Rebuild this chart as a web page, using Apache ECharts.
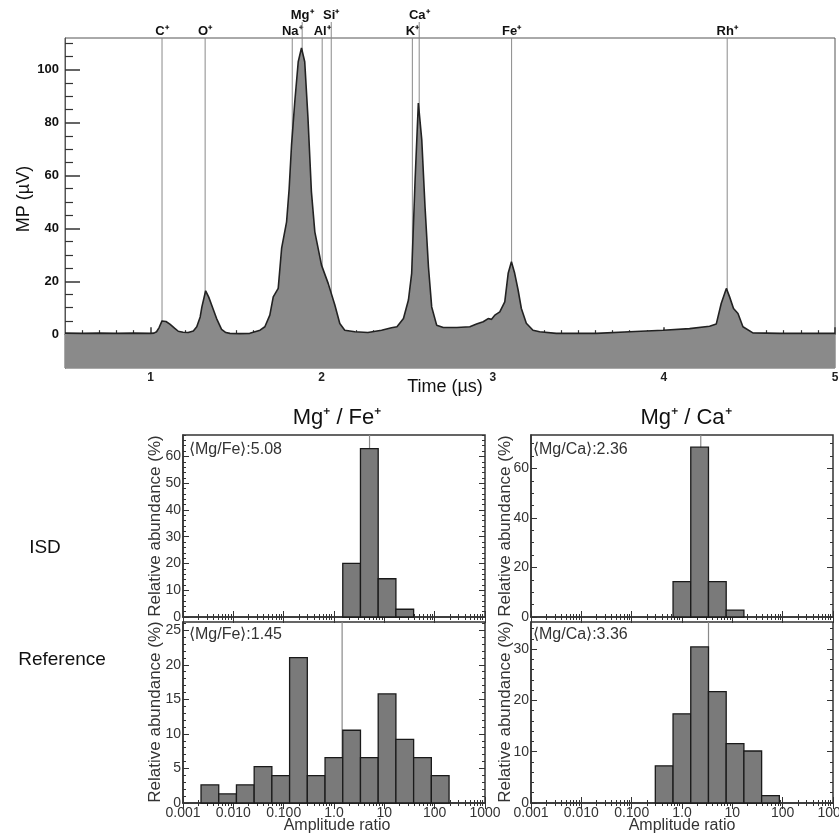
<!DOCTYPE html>
<html><head><meta charset="utf-8">
<script src="https://cdn.jsdelivr.net/npm/echarts@6/dist/echarts.min.js"></script>
<style>html,body{margin:0;padding:0;background:#fff}#c{width:839px;height:837px}</style>
</head><body><div id="c"></div>
<script>
// ---- Mass spectrum (top) ----
const timeUs = [0.50,0.60,0.70,0.80,0.90,1.00,1.02,1.035,1.05,1.067,1.074,1.09,1.113,1.14,1.162,1.19,1.22,1.25,1.27,1.29,1.30,1.322,1.34,1.357,1.386,1.415,1.44,1.464,1.52,1.58,1.61,1.64,1.668,1.697,1.717,1.746,1.766,1.795,1.81,1.824,1.843,1.863,1.882,1.901,1.92,1.94,1.96,1.999,2.038,2.077,2.106,2.135,2.194,2.27,2.35,2.408,2.44,2.478,2.507,2.526,2.546,2.565,2.585,2.604,2.624,2.643,2.672,2.711,2.79,2.866,2.905,2.944,2.973,2.993,3.012,3.041,3.07,3.09,3.109,3.128,3.148,3.167,3.196,3.235,3.274,3.371,3.605,3.80,3.995,4.15,4.267,4.306,4.335,4.365,4.384,4.407,4.433,4.462,4.52,4.676,4.85,5.00];
const mpUV   = [0.4,0.3,0.4,0.3,0.4,0.3,0.4,0.9,2.5,5.0,5.2,4.8,3.8,2.3,1.1,0.7,0.6,1.2,2.8,6.5,10.3,16.4,14.0,11.0,5.9,1.8,0.6,0.3,0.2,0.3,0.9,1.5,2.8,7.2,14.1,17.3,32.5,42.5,55,71.6,88,103,108.2,103,81.7,53.9,38.7,26.1,19.2,11,4,1.5,0.9,0.6,1.5,2.4,2.8,5.9,12.9,23,58.3,87.4,73.5,48.2,25.5,10.3,3.4,2.5,2.5,2.8,3.8,4.7,5.9,5.6,7.2,8.4,12.2,23,27.4,23,16.7,9.7,4.1,1.5,0.9,0.3,0.3,0.9,1.5,2.1,3.0,3.8,11.6,17.3,14.1,9.7,7.8,2.8,0.5,0.3,0.3,0.3];
const ionNames = ['C⁺','O⁺','Na⁺','Mg⁺','Al⁺','Si⁺','K⁺','Ca⁺','Fe⁺','Rh⁺'];
const ionTimes = [1.067,1.319,1.828,1.886,2.003,2.056,2.53,2.57,3.11,4.37];
const ionRow   = [0,0,0,1,0,1,0,1,0,0];
const topXTicks = [1,2,3,4,5];
const topYTicks = [0,20,40,60,80,100];

// ---- Histograms ----
const binEdges = [0.00228,0.00513,0.01153,0.02594,0.0583,0.1312,0.295,0.664,1.493,3.357,7.55,16.98,38.2,85.9,193.2];
const isdMgFeStart = 8,  isdMgFeValues = [20.0,62.9,14.3,2.9];
const isdMgCaStart = 7,  isdMgCaValues = [14.3,68.6,14.3,2.8];
const refMgFeStart = 0,  refMgFeValues = [2.63,1.32,2.63,5.26,3.95,21.05,3.95,6.58,10.53,6.58,15.79,9.21,6.58,3.95];
const refMgCaStart = 6,  refMgCaValues = [7.25,17.39,30.43,21.74,11.59,10.14,1.45];
const meanValues = [5.08, 2.36, 1.45, 3.36];
const meanLabels = ['⟨Mg/Fe⟩:5.08','⟨Mg/Ca⟩:2.36','⟨Mg/Fe⟩:1.45','⟨Mg/Ca⟩:3.36'];
const logTickValues = [0.001,0.01,0.1,1,10,100,1000];
const logTickLabels = ['0.001','0.010','0.100','1.0','10','100','1000'];
const yTicksTL = [0,10,20,30,40,50,60];
const yTicksTR = [0,20,40,60];
const yTicksBL = [0,5,10,15,20,25];
const yTicksBR = [0,10,20,30];

const FONT = '"Liberation Sans", Arial, sans-serif';
const logMinor = [];
for (let k = -3; k <= 2; k++) for (let m = 2; m <= 9; m++) logMinor.push(m * Math.pow(10, k));
const topXMinor = [];
for (let i = 6; i <= 49; i++) if (i % 10) topXMinor.push(i / 10);
const topYMinor = [];
for (let v = -10; v <= 110; v += 5) if (v % 20) topYMinor.push(v);

const grids = [
  {left: 65, top: 38, width: 770, height: 330, show: true, borderColor: '#555', borderWidth: 1},
  {left: 183, top: 435, width: 302, height: 182, show: true, borderColor: '#333', borderWidth: 1.5},
  {left: 531, top: 435, width: 302, height: 182, show: true, borderColor: '#333', borderWidth: 1.5},
  {left: 183, top: 622, width: 302, height: 181, show: true, borderColor: '#333', borderWidth: 1.5},
  {left: 531, top: 622, width: 302, height: 181, show: true, borderColor: '#333', borderWidth: 1.5}
];
grids.forEach(g => { g.outerBoundsMode = 'none'; g.containLabel = false; });

const xAxes = [], yAxes = [];
const tickLine = (c, w) => ({color: c, width: w});
// top chart axes
xAxes.push({gridIndex: 0, type: 'value', min: 0.5, max: 5, position: 'bottom',
  axisLine: {show: true, lineStyle: tickLine('#555', 1)},
  axisTick: {show: true, inside: true, length: 7, customValues: topXTicks, lineStyle: tickLine('#333', 1.5)},
  axisLabel: {show: true, customValues: topXTicks, fontSize: 12, fontWeight: 'bold', color: '#222', fontFamily: FONT, margin: 4,
    formatter: v => String(Math.round(v))},
  splitLine: {show: false}});
xAxes.push({gridIndex: 0, type: 'value', min: 0.5, max: 5, position: 'bottom',
  axisLine: {show: false}, axisTick: {show: true, inside: true, length: 4, customValues: topXMinor, lineStyle: tickLine('#333', 1.2)},
  axisLabel: {show: false}, splitLine: {show: false}});
yAxes.push({gridIndex: 0, type: 'value', min: -12.8, max: 112, position: 'left',
  axisLine: {show: true, lineStyle: tickLine('#555', 1)},
  axisTick: {show: true, inside: true, length: 15, customValues: topYTicks, lineStyle: tickLine('#333', 1.5)},
  axisLabel: {show: true, customValues: topYTicks, fontSize: 13, fontWeight: 'bold', color: '#111', fontFamily: FONT, margin: 6},
  splitLine: {show: false}});
yAxes.push({gridIndex: 0, type: 'value', min: -12.8, max: 112, position: 'left',
  axisLine: {show: false}, axisTick: {show: true, inside: true, length: 8, customValues: topYMinor, lineStyle: tickLine('#333', 1.2)},
  axisLabel: {show: false}, splitLine: {show: false}});

function histAxes(gi, ymax, yTicks, yMinorStep, showX) {
  const yMinor = [];
  for (let v = 0; v <= ymax; v += yMinorStep) if (yTicks.indexOf(v) < 0) yMinor.push(v);
  const base = {gridIndex: gi, type: 'log', logBase: 10, min: 0.001, max: 1000, splitLine: {show: false}, minorTick: {show: false}};
  const xi = xAxes.length;
  xAxes.push(Object.assign({}, base, {position: 'bottom',
    axisLine: {show: true, lineStyle: tickLine('#333', 1.5)},
    axisTick: {show: true, inside: true, length: 6, customValues: logTickValues, lineStyle: tickLine('#333', 1)},
    axisLabel: {show: showX, customValues: logTickValues, fontSize: 14, color: '#333', fontFamily: FONT, margin: 3,
      formatter: v => logTickLabels[Math.round(Math.log10(v)) + 3]}}));
  xAxes.push(Object.assign({}, base, {position: 'bottom', axisLine: {show: false},
    axisTick: {show: true, inside: true, length: 3, customValues: logMinor, lineStyle: tickLine('#333', 1)}, axisLabel: {show: false}}));
  xAxes.push(Object.assign({}, base, {position: 'top', axisLine: {show: false},
    axisTick: {show: true, inside: true, length: 6, customValues: logTickValues, lineStyle: tickLine('#333', 1)}, axisLabel: {show: false}}));
  xAxes.push(Object.assign({}, base, {position: 'top', axisLine: {show: false},
    axisTick: {show: true, inside: true, length: 3, customValues: logMinor, lineStyle: tickLine('#333', 1)}, axisLabel: {show: false}}));
  const ybase = {gridIndex: gi, type: 'value', min: 0, max: ymax, splitLine: {show: false}};
  const yi = yAxes.length;
  yAxes.push(Object.assign({}, ybase, {position: 'left',
    axisLine: {show: true, lineStyle: tickLine('#333', 1.5)},
    axisTick: {show: true, inside: true, length: 6, customValues: yTicks, lineStyle: tickLine('#333', 1)},
    axisLabel: {show: true, customValues: yTicks, fontSize: 14, color: '#333', fontFamily: FONT, margin: 2}}));
  yAxes.push(Object.assign({}, ybase, {position: 'left', axisLine: {show: false},
    axisTick: {show: true, inside: true, length: 3, customValues: yMinor, lineStyle: tickLine('#333', 1)}, axisLabel: {show: false}}));
  yAxes.push(Object.assign({}, ybase, {position: 'right', axisLine: {show: false},
    axisTick: {show: true, inside: true, length: 6, customValues: yTicks, lineStyle: tickLine('#333', 1)}, axisLabel: {show: false}}));
  yAxes.push(Object.assign({}, ybase, {position: 'right', axisLine: {show: false},
    axisTick: {show: true, inside: true, length: 3, customValues: yMinor, lineStyle: tickLine('#333', 1)}, axisLabel: {show: false}}));
  return {xi, yi};
}
const axTL = histAxes(1, 68, yTicksTL, 2, false);
const axTR = histAxes(2, 73.5, yTicksTR, 5, false);
const axBL = histAxes(3, 26.2, yTicksBL, 1, true);
const axBR = histAxes(4, 35.3, yTicksBR, 2, true);

function bins(start, values) {
  return values.map((v, i) => [binEdges[start + i], binEdges[start + i + 1], v]);
}
function barRender(params, api) {
  const p0 = api.coord([api.value(0), 0]);
  const p1 = api.coord([api.value(1), api.value(2)]);
  return {type: 'rect', shape: {x: p0[0], y: p1[1], width: p1[0] - p0[0], height: p0[1] - p1[1]},
    style: {fill: '#7a7a7a', stroke: '#1a1a1a', lineWidth: 1.3}};
}
function meanRender(params, api) {
  const cs = params.coordSys;
  const x = api.coord([api.value(0), 1])[0];
  return {type: 'line', shape: {x1: x, y1: cs.y, x2: x, y2: cs.y + cs.height}, style: {stroke: '#8a8a8a', lineWidth: 1.2}};
}
const histSeries = [];
[[axTL, isdMgFeStart, isdMgFeValues, 0], [axTR, isdMgCaStart, isdMgCaValues, 1],
 [axBL, refMgFeStart, refMgFeValues, 2], [axBR, refMgCaStart, refMgCaValues, 3]].forEach(([ax, s, vals, mi]) => {
  histSeries.push({type: 'custom', xAxisIndex: ax.xi, yAxisIndex: ax.yi, z: 2, renderItem: meanRender,
    data: [[meanValues[mi], 1]], encode: {x: 0, y: 1}, silent: true});
  histSeries.push({type: 'custom', xAxisIndex: ax.xi, yAxisIndex: ax.yi, z: 3, renderItem: barRender,
    data: bins(s, vals), encode: {x: [0, 1], y: 2}, silent: true});
});

const ionSeries = {type: 'custom', xAxisIndex: 0, yAxisIndex: 0, z: 1, silent: true, clip: false,
  data: ionTimes.map((t, i) => [t, ionRow[i]]), encode: {x: 0, y: 1},
  renderItem: function (params, api) {
    const cs = params.coordSys;
    const x = api.coord([api.value(0), 0])[0];
    const row = api.value(1);
    const y0 = row ? cs.y - 16 : cs.y;
    return {type: 'group', children: [
      {type: 'line', shape: {x1: x, y1: y0, x2: x, y2: cs.y + cs.height}, style: {stroke: '#8a8a8a', lineWidth: 1}},
      {type: 'text', x: x, y: row ? cs.y - 23 : cs.y - 7,
        style: {text: ionNames[params.dataIndex], fill: '#111', font: 'bold 13px ' + FONT, align: 'center', verticalAlign: 'middle'}}
    ]};
  }};

const spectrum = {type: 'line', xAxisIndex: 0, yAxisIndex: 0, z: 4, silent: true, showSymbol: false, smooth: false,
  data: timeUs.map((t, i) => [t, mpUV[i]]),
  lineStyle: {color: '#222', width: 1.6},
  areaStyle: {color: '#8a8a8a', opacity: 1, origin: 'start'}};

const txt = (x, y, text, size, opts) => Object.assign({type: 'text', x: x, y: y, silent: true,
  style: {text: text, font: (opts && opts.bold ? 'bold ' : '') + size + 'px ' + FONT, fill: (opts && opts.fill) || '#111',
    align: (opts && opts.align) || 'center', verticalAlign: 'middle'}}, opts && opts.rot ? {rotation: opts.rot} : {});

const graphic = [
  txt(24, 199, 'MP (µV)', 18, {rot: Math.PI / 2}),
  txt(445, 387, 'Time (µs)', 18),
  txt(337, 418, 'Mg⁺ / Fe⁺', 22),
  txt(686, 418, 'Mg⁺ / Ca⁺', 22),
  txt(45, 548, 'ISD', 19),
  txt(62, 660, 'Reference', 19),
  txt(155, 526, 'Relative abundance (%)', 17, {rot: Math.PI / 2, fill: '#333'}),
  txt(505, 526, 'Relative abundance (%)', 17, {rot: Math.PI / 2, fill: '#333'}),
  txt(155, 712, 'Relative abundance (%)', 17, {rot: Math.PI / 2, fill: '#333'}),
  txt(505, 712, 'Relative abundance (%)', 17, {rot: Math.PI / 2, fill: '#333'}),
  txt(337, 826, 'Amplitude ratio', 16, {fill: '#333'}),
  txt(682, 826, 'Amplitude ratio', 16, {fill: '#333'}),
  txt(189, 450, meanLabels[0], 16, {align: 'left', fill: '#333'}),
  txt(533, 450, meanLabels[1], 16, {align: 'left', fill: '#333'}),
  txt(189, 635, meanLabels[2], 16, {align: 'left', fill: '#333'}),
  txt(533, 635, meanLabels[3], 16, {align: 'left', fill: '#333'})
];

const chart = echarts.init(document.getElementById('c'), null, {renderer: 'canvas'});
chart.setOption({
  backgroundColor: '#fff',
  animation: false,
  grid: grids,
  xAxis: xAxes,
  yAxis: yAxes,
  series: [ionSeries, spectrum].concat(histSeries),
  graphic: graphic
});
</script></body></html>
